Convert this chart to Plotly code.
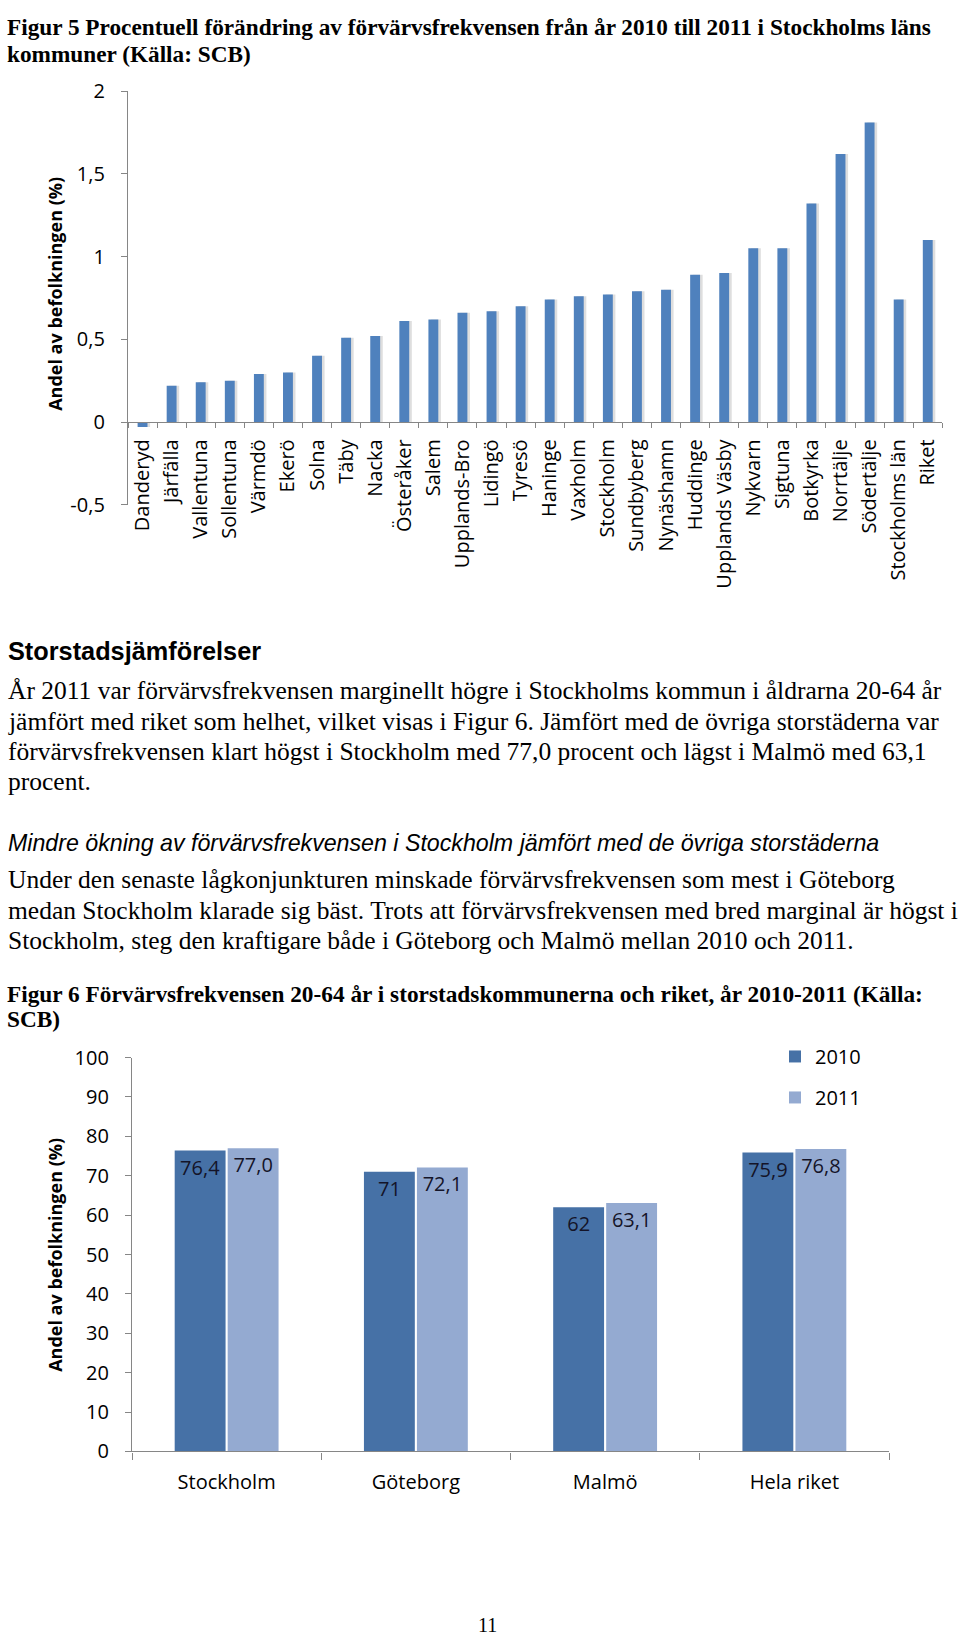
import plotly.graph_objects as go

W, H = 960, 1648

# ---------- data ----------
kommuner = ["Danderyd", "Järfälla", "Vallentuna", "Sollentuna", "Värmdö", "Ekerö", "Solna",
            "Täby", "Nacka", "Österåker", "Salem", "Upplands-Bro", "Lidingö", "Tyresö",
            "Haninge", "Vaxholm", "Stockholm", "Sundbyberg", "Nynäshamn", "Huddinge",
            "Upplands Väsby", "Nykvarn", "Sigtuna", "Botkyrka", "Norrtälje", "Södertälje",
            "Stockholms län", "Riket"]
forandring = [-0.03, 0.22, 0.24, 0.25, 0.29, 0.30, 0.40,
              0.51, 0.52, 0.61, 0.62, 0.66, 0.67, 0.70,
              0.74, 0.76, 0.77, 0.79, 0.80, 0.89,
              0.90, 1.05, 1.05, 1.32, 1.62, 1.81,
              0.74, 1.10]
y1_ticks = [-0.5, 0, 0.5, 1, 1.5, 2]
y1_ticktext = ["-0,5", "0", "0,5", "1", "1,5", "2"]

stader = ["Stockholm", "Göteborg", "Malmö", "Hela riket"]
frekv_2010 = [76.4, 71.0, 62.0, 75.9]
frekv_2011 = [77.0, 72.1, 63.1, 76.8]
etikett_2010 = ["76,4", "71", "62", "75,9"]
etikett_2011 = ["77,0", "72,1", "63,1", "76,8"]


def px_y(p):
    return 1 - p / H


def px_x(p):
    return p / W


fig = go.Figure()

# ---------- Figure 5 ----------
# soft drop shadow behind the bars
fig.add_trace(go.Bar(
    x=kommuner, y=forandring, xaxis="x", yaxis="y",
    marker=dict(color="rgba(0,0,0,0.13)", line=dict(width=0)),
    width=0.34, offset=-0.08, showlegend=False, hoverinfo="skip",
))
fig.add_trace(go.Bar(
    x=kommuner, y=forandring, xaxis="x", yaxis="y",
    marker=dict(color="#4F81BD", line=dict(width=0)),
    width=0.34, offset=-0.17, showlegend=False, hoverinfo="x+y",
))

# ---------- Figure 6 ----------
fig.add_trace(go.Bar(
    x=stader, y=frekv_2010, name="2010", xaxis="x2", yaxis="y2",
    marker=dict(color="#4671A6", line=dict(width=0)),
    text=etikett_2010, textposition="inside", insidetextanchor="end",
    textangle=0, constraintext="none",
    textfont=dict(family="Open Sans", size=20, color="#141428"),
    legendgroup="a",
))
fig.add_trace(go.Bar(
    x=stader, y=frekv_2011, name="2011", xaxis="x2", yaxis="y2",
    marker=dict(color="#94AAD1", line=dict(width=0)),
    text=etikett_2011, textposition="inside", insidetextanchor="end",
    textangle=0, constraintext="none",
    textfont=dict(family="Open Sans", size=20, color="#141428"),
    legendgroup="b",
))

axis_grey = "#868686"
chart_font = dict(family="Open Sans", size=20, color="#000000")

fig.update_layout(
    width=W, height=H,
    margin=dict(l=0, r=0, t=0, b=0),
    paper_bgcolor="white", plot_bgcolor="white",
    barmode="group", bargap=0.44, bargroupgap=0.04,
    font=chart_font,
    xaxis=dict(
        domain=[px_x(128), px_x(942.3)],
        anchor="free", position=px_y(415),
        type="category", showline=True, linecolor=axis_grey, linewidth=1.3,
        ticks="outside", tickson="boundaries", ticklen=5, tickcolor=axis_grey,
        tickangle=-90, tickfont=chart_font, showgrid=False, zeroline=False,
        ticklabelstandoff=8,
    ),
    yaxis=dict(
        domain=[px_y(499), px_y(78.3)],
        anchor="x", range=[-0.5, 2],
        tickvals=y1_ticks, ticktext=y1_ticktext,
        showline=True, linecolor=axis_grey, linewidth=1.3,
        ticks="outside", ticklen=6, tickcolor=axis_grey,
        tickfont=chart_font, showgrid=False, zeroline=False,
        ticklabelstandoff=12,
    ),
    xaxis2=dict(
        domain=[px_x(132), px_x(889)],
        anchor="y2", type="category",
        showline=True, linecolor=axis_grey, linewidth=1.3,
        ticks="outside", tickson="boundaries", ticklen=7, tickcolor=axis_grey,
        tickfont=chart_font, showgrid=False, zeroline=False,
        ticklabelstandoff=12,
    ),
    yaxis2=dict(
        domain=[px_y(1461.4), px_y(1061)],
        anchor="x2", range=[0, 100], dtick=10, tick0=0,
        showline=True, linecolor=axis_grey, linewidth=1.3,
        ticks="outside", ticklen=6, tickcolor=axis_grey,
        tickfont=chart_font, showgrid=False, zeroline=False,
        ticklabelstandoff=12,
    ),
    legend=dict(
        x=px_x(775), y=px_y(1040), xanchor="left", yanchor="top",
        font=dict(family="Open Sans", size=20, color="#000000"),
        tracegroupgap=12, bgcolor="rgba(0,0,0,0)", borderwidth=0,
    ),
)

serif = "Liberation Serif"
sans = "Liberation Sans"


def text_line(txt, ypx, family=serif, size=25.5, xpx=6, xanchor="left"):
    fig.add_annotation(
        text=txt, xref="paper", yref="paper", x=px_x(xpx), y=px_y(ypx),
        xanchor=xanchor, yanchor="middle", showarrow=False, align="left",
        font=dict(family=family, size=size, color="#000000"),
    )


# titles / paragraphs
text_line("<b>Figur 5 Procentuell förändring av förvärvsfrekvensen från år 2010 till 2011 i Stockholms läns</b>", 13, size=23.25, xpx=5)
text_line("<b>kommuner (Källa: SCB)</b>", 41, size=23.25, xpx=5)

text_line("<b>Storstadsjämförelser</b>", 648, family=sans, size=25.3)
text_line("År 2011 var förvärvsfrekvensen marginellt högre i Stockholms kommun i åldrarna 20-64 år", 688)
text_line("jämfört med riket som helhet, vilket visas i Figur 6. Jämfört med de övriga storstäderna var", 719)
text_line("förvärvsfrekvensen klart högst i Stockholm med 77,0 procent och lägst i Malmö med 63,1", 749.5)
text_line("procent.", 780)

text_line("<i>Mindre ökning av förvärvsfrekvensen i Stockholm jämfört med de övriga storstäderna</i>", 843, family=sans, size=23.2)
text_line("Under den senaste lågkonjunkturen minskade förvärvsfrekvensen som mest i Göteborg", 880)
text_line("medan Stockholm klarade sig bäst. Trots att förvärvsfrekvensen med bred marginal är högst i", 911)
text_line("Stockholm, steg den kraftigare både i Göteborg och Malmö mellan 2010 och 2011.", 941.5)

text_line("<b>Figur 6 Förvärvsfrekvensen 20-64 år i storstadskommunerna och riket, år 2010-2011 (Källa:</b>", 996, size=23.3, xpx=5)
text_line("<b>SCB)</b>", 1022, size=23.3, xpx=5)

text_line("11", 1638, size=20, xpx=487, xanchor="center")

# y-axis titles
for ypx in (285, 1262):
    fig.add_annotation(
        text="<b>Andel av befolkningen (%)</b>", xref="paper", yref="paper",
        x=px_x(55.5), y=px_y(ypx), xanchor="center", yanchor="middle",
        textangle=-90, showarrow=False,
        font=dict(family="Open Sans", size=18, color="#000000"),
    )

# place the figure flush with the top-left corner of the page
post = (
    "document.documentElement.style.margin='0';"
    "document.body.style.margin='0';"
    "document.body.style.overflow='hidden';"
    "var gd=document.getElementById('{plot_id}');"
    "gd.style.position='absolute';gd.style.top='0px';gd.style.left='0px';"
)
fig.write_html("out.html", post_script=post, config={"displayModeBar": False})
